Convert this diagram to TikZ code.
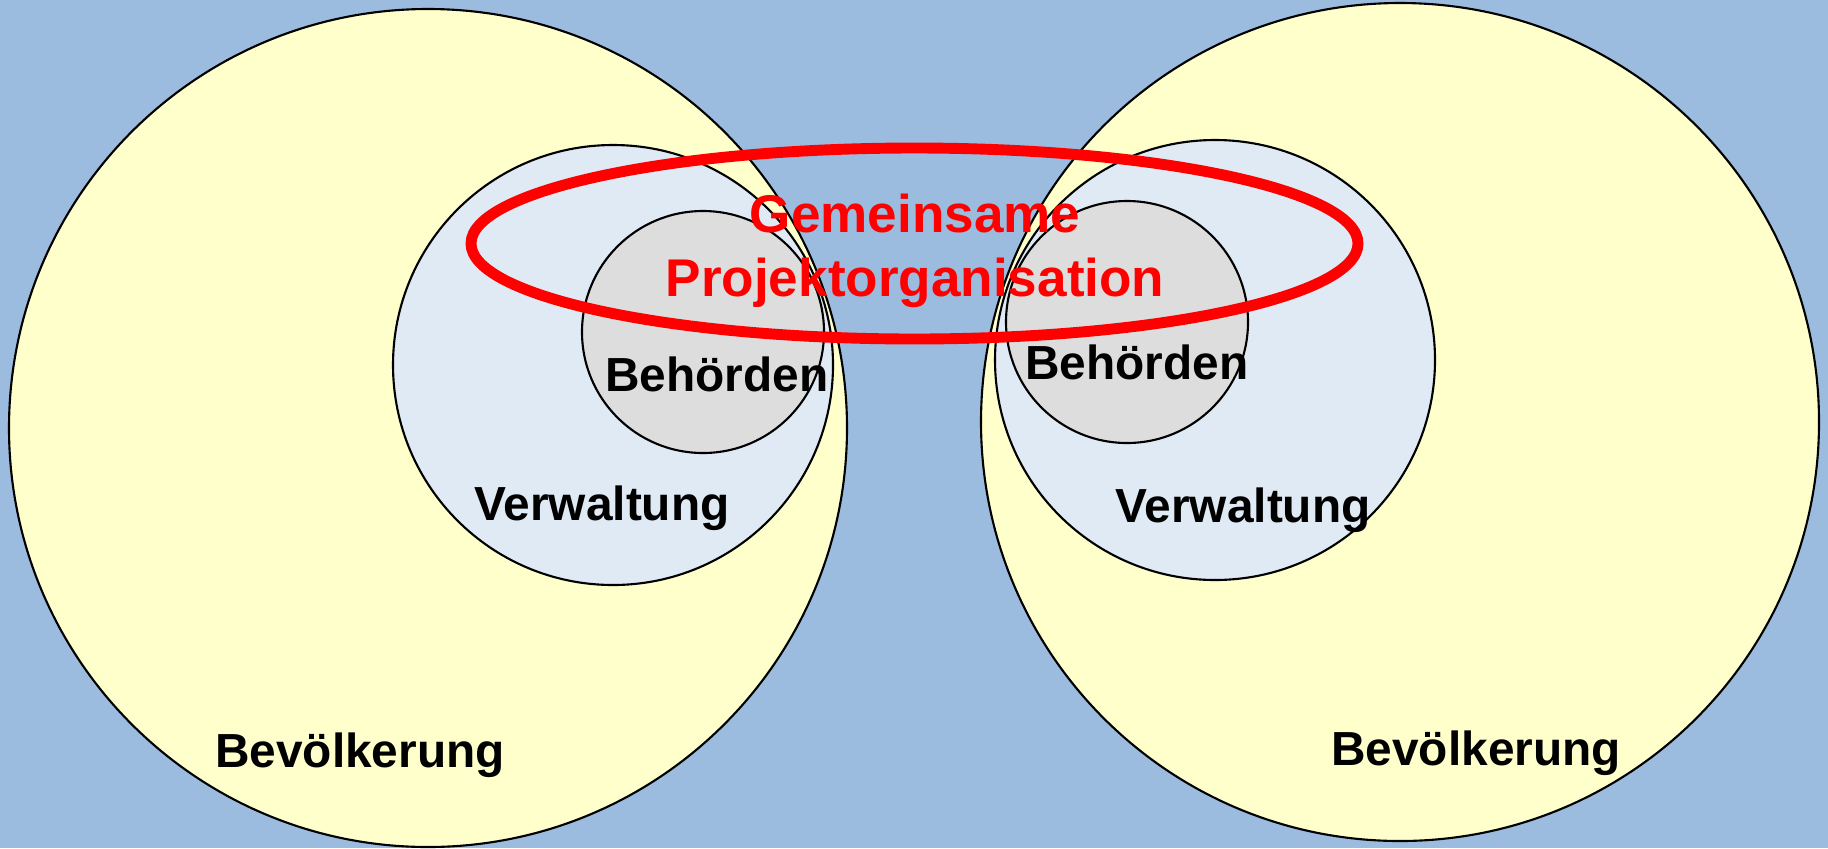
\documentclass[tikz,border=0pt]{standalone}
\usepackage{fontspec}
\setmainfont{Liberation Sans}
\usepackage{xcolor}
\definecolor{bgblue}{HTML}{9BBBDF}
\definecolor{popyellow}{HTML}{FFFFCC}
\definecolor{adminblue}{HTML}{E0EAF5}
\definecolor{authgrey}{HTML}{DDDDDD}
\definecolor{projred}{HTML}{FF0000}

\begin{document}
\begin{tikzpicture}[
    x=0.01cm, y=-0.01cm,
    ring/.style={draw=black, line width=0.6pt},
    label/.style={font=\fontsize{13.6}{16}\selectfont\bfseries, anchor=base, inner sep=0pt},
    projlabel/.style={font=\fontsize{15.1}{18.2}\selectfont\bfseries, text=projred, align=center, inner sep=0pt}
]

% background
\fill [bgblue] (0,0) rectangle (1828,848);
\useasboundingbox (0,0) rectangle (1828,848);

% left side
\draw [ring, fill=popyellow] (428,428) circle (419);
\draw [ring, fill=adminblue] (613,365) circle (220);
\draw [ring, fill=authgrey] (703,332) circle (121);

% right side
\draw [ring, fill=popyellow] (1400,422) circle (419);
\draw [ring, fill=adminblue] (1215,360) circle (220);
\draw [ring, fill=authgrey] (1127,322) circle (121);

% labels
\node (behL) [label] at (717,391) {Behörden};
\node (verL) [label] at (602,520) {Verwaltung};
\node (bevL) [label] at (360,767) {Bevölkerung};
\node (behR) [label] at (1137,379) {Behörden};
\node (verR) [label] at (1243,522) {Verwaltung};
\node (bevR) [label] at (1476,765) {Bevölkerung};

% joint project organisation
\draw [projred, line width=3.1pt] (914.5,243.5) ellipse (443.5 and 95.5);
\node (proj) [projlabel, anchor=base] at (915,296) {Gemeinsame\\Projektorganisation};

\end{tikzpicture}
\end{document}
